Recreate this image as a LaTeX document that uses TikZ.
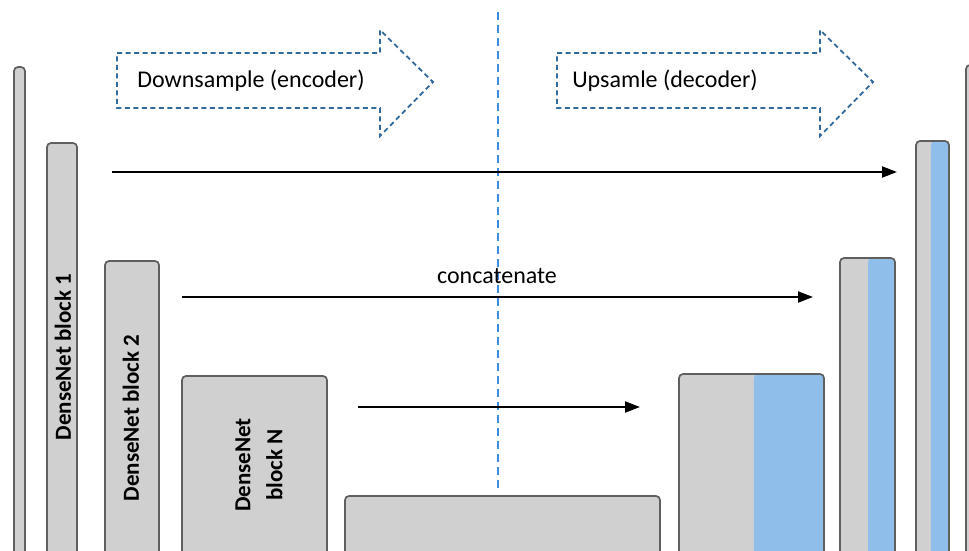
\documentclass[tikz,border=0pt]{standalone}
\usepackage{fontspec}
\setmainfont{Carlito}
\usetikzlibrary{arrows.meta,calc}
\definecolor{gfill}{RGB}{208,208,208}
\definecolor{gborder}{RGB}{95,95,95}
\definecolor{bfill}{RGB}{143,190,234}
\definecolor{darrow}{RGB}{50,105,155}
\definecolor{dline}{RGB}{60,140,225}
\tikzset{
  blk/.style={draw=gborder, fill=gfill, line width=1.7pt, rounded corners=4pt,
    anchor=north west, inner sep=0pt, outer sep=0pt},
  split/.style={path picture={\fill[bfill]
     ($(path picture bounding box.north west)!#1!(path picture bounding box.north east)$)
     rectangle (path picture bounding box.south east);}},
  rlabel/.style={rotate=90, font=\bfseries\fontsize{23}{32}\selectfont, align=center},
  hlabel/.style={font=\fontsize{24}{28}\selectfont, anchor=base},
  flow/.style={line width=2.1pt, -{Triangle[length=15pt,width=11pt]}},
  dasharrow/.style={draw=darrow, line width=1.8pt, dash pattern=on 5pt off 3.5pt},
  midline/.style={draw=dline, line width=1.7pt, dash pattern=on 8pt off 5pt}
}
\begin{document}
\begin{tikzpicture}[x=1pt,y=-1pt]
\clip (0,0) rectangle (969,551);
\fill[white] (0,0) rectangle (969,551);

% encoder blocks
\node[blk, minimum width=11pt, minimum height=500pt] (b0) at (14,67) {};
\node[blk, minimum width=30pt, minimum height=430pt] (b1) at (47,143) {};
\node[blk, minimum width=54pt, minimum height=310pt] (b2) at (105,261) {};
\node[blk, minimum width=145pt, minimum height=200pt] (bn) at (182,376) {};
\node[blk, minimum width=315pt, minimum height=80pt] (bot) at (345,496) {};

% decoder blocks
\node[blk, split=0.517, minimum width=145pt, minimum height=200pt] (d1) at (679,374) {};
\node[blk, split=0.51, minimum width=55pt, minimum height=310pt] (d2) at (840,258) {};
\node[blk, split=0.45, minimum width=33pt, minimum height=430pt] (d3) at (916,141) {};
\node[blk, minimum width=11pt, minimum height=500pt] (d4) at (966,65) {};

% rotated labels
\node[rlabel] (t1) at (63,357) {DenseNet block 1};
\node[rlabel] (t2) at (131,418) {DenseNet block 2};
\node[rlabel] (tn) at (259,465) {DenseNet\\block N};

% middle dashed line
\coordinate (mtop) at (498,12);
\coordinate (mbot) at (498,490);
\draw[midline] (mtop) -- (mbot);

% skip connections
\coordinate (s1) at (112,172);
\coordinate (e1) at (897,172);
\coordinate (s2) at (182,297);
\coordinate (e2) at (813,297);
\coordinate (s3) at (358,407);
\coordinate (e3) at (640,407);
\draw[flow] (s1) -- (e1);
\draw[flow] (s2) -- (e2);
\draw[flow] (s3) -- (e3);
\node[hlabel] (cat) at (497,283) {concatenate};

% big dashed arrows
\draw[dasharrow] (117,53) -- (380,53) -- (380,30) -- (433,82) -- (380,136) -- (380,108) -- (117,108) -- cycle;
\draw[dasharrow] (557,53) -- (820,53) -- (820,30) -- (873,82) -- (820,136) -- (820,108) -- (557,108) -- cycle;
\node[hlabel] (enc) at (251,87) {Downsample (encoder)};
\node[hlabel] (dec) at (665,87) {Upsamle (decoder)};
\end{tikzpicture}
\end{document}
